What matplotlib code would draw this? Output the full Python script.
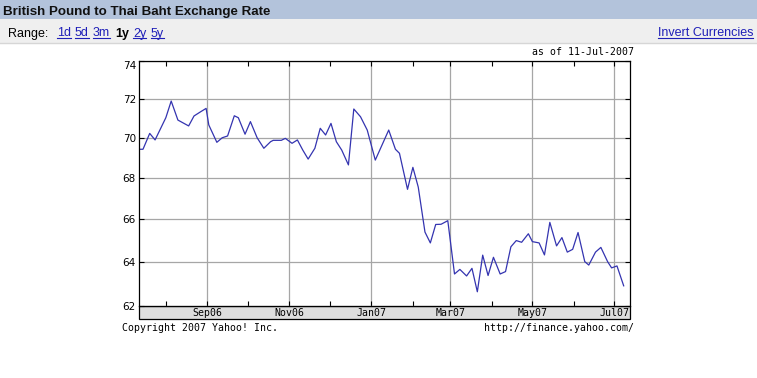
import matplotlib
matplotlib.use("Agg")
import matplotlib.pyplot as plt
import matplotlib.dates as mdates
from matplotlib.ticker import FixedLocator, FormatStrFormatter, NullLocator
from matplotlib.patches import Rectangle
from matplotlib.lines import Line2D
from matplotlib.transforms import IdentityTransform
import pandas as pd

# --- data (days after start date, GBP/THB rate) ---
start_date = "2006-07-11"
day_offset = [1, 4, 9, 13, 21, 25, 30, 38, 42, 47, 51, 53, 59, 63, 67, 72, 75, 80, 84, 89,
              94, 99, 101, 107, 110, 115, 119, 123, 127, 132, 136, 140, 144, 148, 152, 157,
              161, 166, 171, 177, 187, 192, 195, 201, 205, 209, 214, 218, 222, 226, 231,
              236, 240, 245, 249, 253, 257, 261, 265, 270, 274, 278, 282, 286, 291, 294,
              299, 303, 307, 312, 316, 320, 324, 328, 333, 336, 341, 345, 350, 353, 357, 362]
rate = [69.43, 69.43, 70.23, 69.90, 71.03, 71.89, 70.91, 70.61, 71.12, 71.34, 71.51, 70.66,
        69.78, 70.01, 70.10, 71.13, 71.03, 70.19, 70.83, 70.01, 69.48, 69.81, 69.88, 69.88,
        69.98, 69.73, 69.90, 69.39, 68.94, 69.48, 70.49, 70.15, 70.74, 69.81, 69.39, 68.65,
        71.48, 71.08, 70.40, 68.89, 70.40, 69.43, 69.23, 67.45, 68.53, 67.56, 65.40, 64.89,
        65.76, 65.77, 65.94, 63.45, 63.66, 63.36, 63.71, 62.64, 64.32, 63.38, 64.22, 63.45,
        63.56, 64.71, 65.00, 64.92, 65.32, 64.95, 64.89, 64.33, 65.86, 64.75, 65.14, 64.46,
        64.59, 65.38, 64.02, 63.86, 64.46, 64.68, 64.02, 63.73, 63.82, 62.91]
y_ticks = [62, 64, 66, 68, 70, 72, 74]

range_links = ["1d", "5d", "3m", "1y", "2y", "5y"]
range_x = [57, 75, 93, 115, 133, 151]

W, H = 757, 378
LINK = "#1f1fb8"
HDR_FONT = ["Liberation Sans", "DejaVu Sans"]
MONO = "DejaVu Sans Mono"


def fx(x):
    return x / W


def fy(y):
    return 1 - y / H


dates = pd.Timestamp(start_date) + pd.to_timedelta(day_offset, unit="D")

fig = plt.figure(figsize=(W / 100, H / 100), dpi=100)
fig.patch.set_facecolor("white")

# header bars
fig.patches.append(Rectangle((0, fy(19)), 1, 19 / H, transform=fig.transFigure,
                             facecolor="#b3c3db", edgecolor="none", zorder=-2))
fig.patches.append(Rectangle((0, fy(43)), 1, 24 / H, transform=fig.transFigure,
                             facecolor="#efefef", edgecolor="none", zorder=-2))
fig.lines.append(Line2D([0, 1], [fy(43), fy(43)], transform=fig.transFigure,
                        color="#d6d6d6", lw=1))
fig.text(fx(3), fy(15), "British Pound to Thai Baht Exchange Rate", family=HDR_FONT,
         fontsize=9.6, fontweight="bold", color="#111111", va="baseline")
fig.text(fx(8), fy(36.5), "Range:", family=HDR_FONT, fontsize=9, color="black", va="baseline")

links = []
for lab, x in zip(range_links, range_x):
    if lab == "1y":
        fig.text(fx(x), fy(36.5), lab, family=HDR_FONT, fontsize=9, fontweight="bold",
                 color="black", va="baseline")
    else:
        links.append(fig.text(fx(x), fy(36.5), lab, family=HDR_FONT, fontsize=9,
                              color=LINK, va="baseline"))
links.append(fig.text(fx(753), fy(36.5), "Invert Currencies", family=HDR_FONT, fontsize=9,
                      color=LINK, va="baseline", ha="right"))

# chart axes
ax_l, ax_r, ax_t, ax_b = 138.7, 630, 61, 306
ax = fig.add_axes([fx(ax_l), fy(ax_b), (ax_r - ax_l) / W, (ax_b - ax_t) / H])
ax.plot(dates, rate, color="#3434b0", lw=0.9)

ax.set_yscale("log")
ax.set_ylim(62, 74)
ax.yaxis.set_major_locator(FixedLocator(y_ticks))
ax.yaxis.set_major_formatter(FormatStrFormatter("%d"))
ax.yaxis.set_minor_locator(NullLocator())

x0 = mdates.date2num(pd.Timestamp(start_date))
ax.set_xlim(x0 + 0.8, x0 + 366.7)
ax.xaxis.set_major_locator(mdates.MonthLocator(bymonth=[1, 3, 5, 7, 9, 11]))
ax.xaxis.set_minor_locator(mdates.MonthLocator())
ax.xaxis.set_major_formatter(mdates.DateFormatter("%b%y"))

ax.set_axisbelow(True)
ax.grid(True, which="major", color="#a6a6a6", lw=0.9)
for s in ax.spines.values():
    s.set_linewidth(0.9)
    s.set_color("black")

ax.tick_params(which="both", direction="in", top=True, right=True, length=3.5,
               width=0.8, color="black")
ax.tick_params(axis="x", pad=1.5, labelsize=7.15)
ax.tick_params(axis="y", pad=2, labelsize=7.5)
for t in ax.get_xticklabels():
    t.set_family(MONO)
for t in ax.get_yticklabels():
    t.set_family("DejaVu Sans")
ax.get_yticklabels()[-1].set_va("top")

# gray date strip under the plot
fig.patches.append(Rectangle((fx(ax_l), fy(319)), (ax_r - ax_l) / W, 13 / H,
                             transform=fig.transFigure, facecolor="#dedede",
                             edgecolor="black", lw=0.9, zorder=-1))

fig.text(fx(634), fy(52), "as of 11-Jul-2007", family=MONO, fontsize=7.15,
         ha="right", va="center")
fig.text(fx(122), fy(328), "Copyright 2007 Yahoo! Inc.", family=MONO, fontsize=7.15,
         ha="left", va="center")
fig.text(fx(634), fy(328), "http://finance.yahoo.com/", family=MONO, fontsize=7.15,
         ha="right", va="center")

# underline the links
fig.canvas.draw()
renderer = fig.canvas.get_renderer()
for t in links:
    bb = t.get_window_extent(renderer)
    fig.lines.append(Line2D([bb.x0, bb.x1], [H - 38.3, H - 38.3], transform=IdentityTransform(),
                            color=LINK, lw=0.8))

fig.savefig("out.png", dpi=100)
